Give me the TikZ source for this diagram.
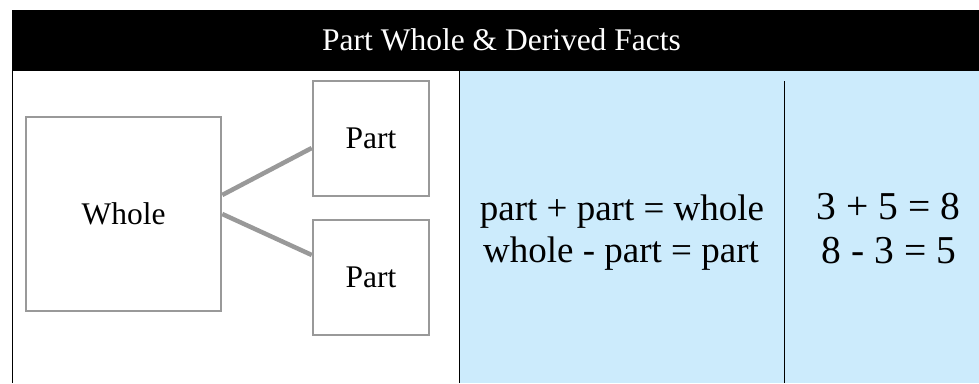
\documentclass[tikz,border=0pt]{standalone}
\usepackage{fontspec}
\setmainfont{Liberation Serif}
\definecolor{factblue}{RGB}{204,235,252}
\definecolor{boxgray}{RGB}{153,153,153}

\begin{document}
\begin{tikzpicture}[x=1pt,y=-1pt,
    box/.style={draw=boxgray,line width=2.5pt,inner sep=0pt,font=\fontsize{31.5}{36}\selectfont},
    link/.style={draw=boxgray,line width=4.5pt},
    rule/.style={draw=black,line width=1pt},
    fact/.style={anchor=base,inner sep=0pt,font=\fontsize{37}{42}\selectfont},
    num/.style={anchor=base,inner sep=0pt,font=\fontsize{39.5}{44}\selectfont}]
    \useasboundingbox (0,0) rectangle (979,383);
    % table cells
    \fill[black] (12,10) rectangle (979,71);
    \fill[factblue] (459,71) rectangle (979,383);
    \draw[rule] (12,71) -- (12,383);
    \draw[rule] (459,71) -- (459,383);
    \draw[rule] (784,81) -- (784,383);
    \node[anchor=base,inner sep=0pt,text=white,font=\fontsize{31.5}{36}\selectfont] at (501.5,50) (title) {Part Whole \& Derived Facts};
    % part whole model
    \node[box,minimum width=195pt,minimum height=194pt] at (123.5,214) (whole) {Whole};
    \node[box,minimum width=116pt,minimum height=115pt] at (371,138.5) (parta) {Part};
    \node[box,minimum width=116pt,minimum height=115pt] at (371,277.5) (partb) {Part};
    \path[link]
    ([yshift=19pt]whole.east) edge ([yshift=-9.5pt]parta.west)
    (whole.east) edge ([yshift=22.5pt]partb.west)
    ;
    % derived facts
    \node[fact] at (622,220) (addword) {part + part = whole};
    \node[fact] at (621,262) (subword) {whole - part = part};
    \node[num] at (888.5,219) (addnum) {3 + 5 = 8};
    \node[num] at (889,263) (subnum) {8 - 3 = 5};
\end{tikzpicture}
\end{document}
